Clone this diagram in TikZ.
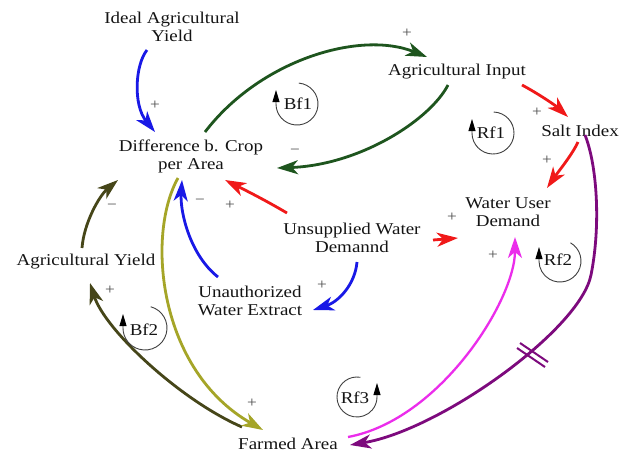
\documentclass[tikz,border=0pt]{standalone}
\usepackage{fontspec}
\setmainfont{Liberation Serif}[FakeStretch=1.15]
\usetikzlibrary{arrows.meta,calc}

\definecolor{lkblue}{RGB}{25,25,230}
\definecolor{lkgreen}{RGB}{30,85,30}
\definecolor{lkred}{RGB}{240,25,25}
\definecolor{lkolive}{RGB}{70,70,25}
\definecolor{lkyellow}{RGB}{165,165,40}
\definecolor{lkmagenta}{RGB}{235,45,235}
\definecolor{lkpurple}{RGB}{125,10,125}

\begin{document}
\begin{tikzpicture}[x=1pt,y=-1pt,
  var/.style={inner sep=0pt, align=center, text=black!92,
    font=\fontsize{16.5}{18}\selectfont},
  sgn/.style={inner sep=0pt, text=black!70, font=\fontsize{15}{15}\selectfont},
  link/.style={line width=2.8pt, -{Stealth[length=21pt,width=14pt,inset=6pt]}},
  loopmark/.style={line width=0.9pt, black!75,
    -{Triangle[length=12pt,width=7pt,color=black]}},
  looplabel/.style={inner sep=0pt, text=black!92, font=\fontsize{16.5}{18}\selectfont},
]
\useasboundingbox (0,0) rectangle (619,456);
\fill[white] (0,0) rectangle (619,456);

% variables
\node[var] (ideal)   at (172,27)  {Ideal Agricultural\\Yield};
\node[var] (diff)    at (191,156) {Difference b. Crop\\per Area};
\node[var] (input)   at (457,72)  {Agricultural Input};
\node[var] (salt)    at (580,131) {Salt Index};
\node[var] (wud)     at (508,212) {Water User\\Demand};
\node[var] (unsup)   at (352,238) {Unsupplied Water\\Demannd};
\node[var] (unauth)  at (250,301) {Unauthorized\\Water Extract};
\node[var] (agyield) at (86,262)  {Agricultural Yield};
\node[var] (farmed)  at (288,444) {Farmed Area};

% causal links
\draw[link, lkblue] ([shift={(-25,23)}]ideal.center)
  .. controls (135,65) and (133,105) .. ([shift={(-36,-24)}]diff.center);
\draw[link, lkgreen] ([shift={(14,-24)}]diff.center)
  .. controls (260,60) and (360,30) .. ([shift={(-30,-15)}]input.center);
\draw[link, lkgreen] ([shift={(-9,13)}]input.center)
  .. controls (430,120) and (360,165) .. ([shift={(86,12)}]diff.center);
\draw[link, lkred] ([shift={(65,13)}]input.center)
  .. controls (537,93) and (555,105) .. ([shift={(-12,-14)}]salt.center);
\draw[link, lkred] ([shift={(-2,11)}]salt.center)
  .. controls (572,155) and (558,172) .. ([shift={(39,-24)}]wud.center);
\draw[link, lkred] ([shift={(-65,-25)}]unsup.center)
  .. controls (265,200) and (245,190) .. ([shift={(34,24)}]diff.center);
\draw[link, lkred] ([shift={(81,2)}]unsup.center) -- ([shift={(-50,26)}]wud.center);
\draw[link, lkblue] ([shift={(5,24)}]unsup.center)
  .. controls (355,285) and (338,302) .. ([shift={(63,9)}]unauth.center);
\draw[link, lkblue] ([shift={(-32,-24)}]unauth.center)
  .. controls (190,255) and (180,212) .. ([shift={(-9,24)}]diff.center);
\draw[link, lkolive] ([shift={(-4,-14)}]agyield.center)
  .. controls (84,222) and (100,195) .. ([shift={(-73,24)}]diff.center);
\draw[link, lkolive] ([shift={(-46,-17)}]farmed.center)
  .. controls (180,400) and (105,330) .. ([shift={(4,21)}]agyield.center);
\draw[link, lkyellow] ([shift={(-13,22)}]diff.center)
  .. controls (146,235) and (158,370) .. ([shift={(-25,-14)}]farmed.center);
\draw[link, lkmagenta, line width=2.3pt] ([shift={(60,-7)}]farmed.center)
  .. controls (440,420) and (515,300) .. ([shift={(7,25)}]wud.center);
\draw[link, lkpurple] ([shift={(5,4)}]salt.center)
  .. controls (597,165) and (601,225) .. (591,275)
  .. controls (580,330) and (440,430) .. ([shift={(62,1)}]farmed.center);

% delay mark on the salt link
\draw[lkpurple, line width=2pt] (520,343) -- (548,362) (517,348) -- (545,367);

% polarities
\node[sgn] (s1)  at (155,105) {+};
\node[sgn] (s2)  at (407,33)  {+};
\node[sgn] (s3)  at (295,152) {−};
\node[sgn] (s4)  at (537,112) {+};
\node[sgn] (s5)  at (547,160) {+};
\node[sgn] (s6)  at (230,205) {+};
\node[sgn] (s7)  at (452,217) {+};
\node[sgn] (s8)  at (322,285) {+};
\node[sgn] (s9)  at (200,202) {−};
\node[sgn] (s10) at (112,207) {−};
\node[sgn] (s11) at (110,290) {+};
\node[sgn] (s12) at (252,403) {+};
\node[sgn] (s13) at (493,255) {+};

% loop markers
\draw[loopmark] (297,104) ++(-85:21) arc[start angle=-85, end angle=180, radius=21] -- ++(0,-14);
\node[looplabel] (bf1) at (298,104) {Bf1};
\draw[loopmark] (493,133) ++(-88:21) arc[start angle=-88, end angle=180, radius=21] -- ++(0,-14);
\node[looplabel] (rf1) at (491,133) {Rf1};
\draw[loopmark] (560,261) ++(-60:21) arc[start angle=-60, end angle=180, radius=21] -- ++(0,-14);
\node[looplabel] (rf2) at (558,260) {Rf2};
\draw[loopmark] (145,328) ++(-75:22) arc[start angle=-75, end angle=180, radius=22] -- ++(0,-14);
\node[looplabel] (bf2) at (144,330) {Bf2};
\draw[loopmark] (357,397) ++(-80:20) arc[start angle=-80, end angle=-360, radius=20] -- ++(0,-14);
\node[looplabel] (rf3) at (355,398) {Rf3};
\end{tikzpicture}
\end{document}
